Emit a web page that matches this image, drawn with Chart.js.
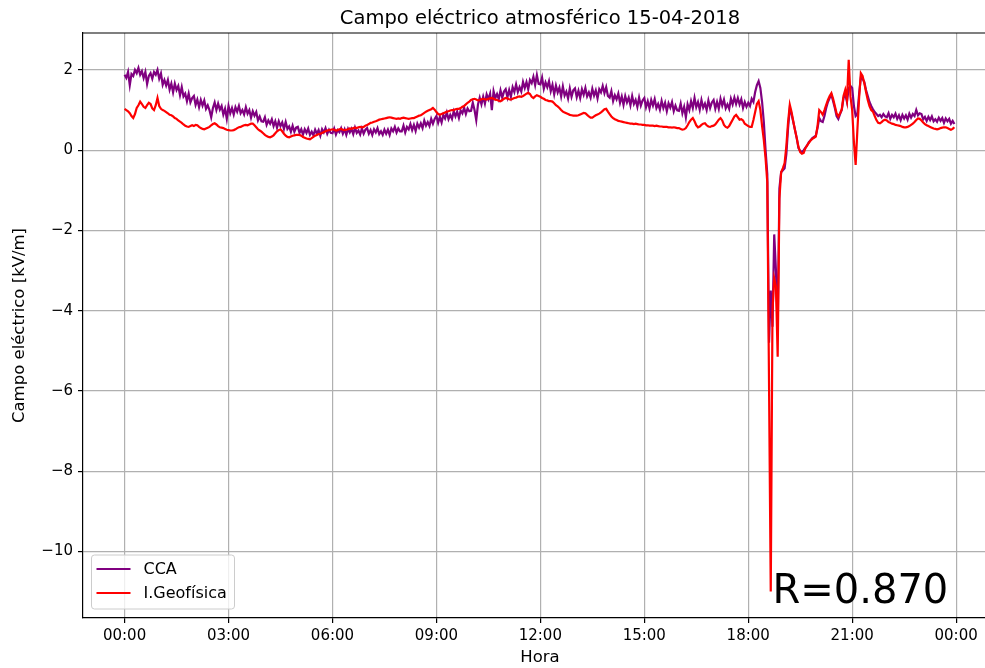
<!DOCTYPE html>
<html>
<head>
<meta charset="utf-8">
<title>Campo eléctrico atmosférico 15-04-2018</title>
<script src="https://cdn.jsdelivr.net/npm/chart.js@4.4.0/dist/chart.umd.min.js"></script>
<style>
  html, body { margin: 0; padding: 0; background: #fff; overflow: hidden; }
  #wrap { width: 985px; height: 668px; overflow: hidden; }
</style>
</head>
<body>
<div id="wrap"><canvas id="fieldChart" width="1000" height="668"></canvas></div>
<script>
// one sample every 3 minutes, starting at 00:00
const sampleStepHours = 0.05;

const seriesNames = ['CCA', 'I.Geofísica'];
const hourTicks = [0, 3, 6, 9, 12, 15, 18, 21, 24];
const fieldTicks = [-10, -8, -6, -4, -2, 0, 2];
const correlationText = 'R=0.870';

// CCA field, kV/m (20 samples per hour)
const ccaField = [
  1.88, 1.80, 1.95, 1.62, 1.90, 1.85, 2.00, 1.92, 2.05, 1.88, 1.97, 1.80, 1.95, 1.65, 1.85, 1.92, 1.78, 1.95, 1.88, 2.00,
  1.78, 1.91, 1.63, 1.75, 1.61, 1.75, 1.51, 1.66, 1.44, 1.66, 1.50, 1.60, 1.37, 1.57, 1.34, 1.41, 1.22, 1.41, 1.19, 1.30,
  1.35, 1.13, 1.26, 1.07, 1.25, 1.11, 1.24, 1.03, 1.12, 1.00, 0.82, 1.05, 1.19, 1.00, 1.16, 1.01, 1.10, 0.89, 1.03, 0.78,
  1.10, 0.92, 1.05, 0.89, 1.07, 0.96, 1.10, 0.92, 1.00, 0.89, 1.07, 0.91, 1.00, 0.81, 0.97, 0.86, 0.95, 0.74, 0.84, 0.72,
  0.71, 0.82, 0.63, 0.74, 0.66, 0.77, 0.60, 0.72, 0.56, 0.72, 0.60, 0.69, 0.53, 0.70, 0.53, 0.59, 0.46, 0.61, 0.46, 0.56,
  0.58, 0.43, 0.52, 0.39, 0.52, 0.43, 0.54, 0.38, 0.46, 0.37, 0.51, 0.41, 0.50, 0.36, 0.52, 0.44, 0.55, 0.41, 0.51, 0.43,
  0.42, 0.54, 0.39, 0.50, 0.45, 0.55, 0.41, 0.52, 0.38, 0.53, 0.44, 0.53, 0.40, 0.56, 0.43, 0.49, 0.39, 0.54, 0.41, 0.51,
  0.55, 0.41, 0.50, 0.38, 0.52, 0.44, 0.55, 0.40, 0.47, 0.38, 0.51, 0.41, 0.51, 0.38, 0.54, 0.47, 0.58, 0.44, 0.54, 0.47,
  0.47, 0.61, 0.44, 0.58, 0.52, 0.65, 0.50, 0.63, 0.48, 0.66, 0.56, 0.67, 0.55, 0.74, 0.61, 0.70, 0.60, 0.78, 0.66, 0.78,
  0.85, 0.68, 0.83, 0.69, 0.88, 0.79, 0.94, 0.77, 0.88, 0.78, 0.97, 0.84, 0.96, 0.80, 0.99, 0.92, 1.06, 0.90, 1.04, 0.97,
  0.98, 1.18, 1.00, 0.75, 1.14, 1.31, 1.14, 1.33, 1.16, 1.39, 1.27, 1.41, 1.00, 1.47, 1.30, 1.40, 1.27, 1.49, 1.31, 1.46,
  1.52, 1.32, 1.50, 1.33, 1.57, 1.45, 1.64, 1.45, 1.57, 1.46, 1.70, 1.55, 1.70, 1.52, 1.75, 1.67, 1.83, 1.62, 1.87, 1.65,
  1.64, 1.81, 1.53, 1.69, 1.57, 1.72, 1.47, 1.63, 1.39, 1.61, 1.44, 1.56, 1.34, 1.59, 1.36, 1.46, 1.29, 1.54, 1.33, 1.49,
  1.54, 1.32, 1.48, 1.30, 1.52, 1.38, 1.55, 1.34, 1.44, 1.31, 1.53, 1.36, 1.49, 1.29, 1.52, 1.44, 1.60, 1.42, 1.57, 1.35,
  1.31, 1.47, 1.22, 1.37, 1.27, 1.41, 1.18, 1.34, 1.13, 1.35, 1.19, 1.31, 1.12, 1.35, 1.15, 1.25, 1.08, 1.31, 1.11, 1.24,
  1.30, 1.07, 1.22, 1.04, 1.25, 1.11, 1.27, 1.05, 1.15, 1.01, 1.23, 1.05, 1.18, 0.97, 1.17, 1.06, 1.20, 0.97, 1.11, 0.99,
  0.98, 1.16, 0.92, 1.08, 0.82, 1.14, 1.00, 1.22, 1.05, 1.30, 1.07, 1.20, 1.01, 1.25, 1.06, 1.16, 1.00, 1.24, 1.05, 1.19,
  1.25, 1.03, 1.20, 1.03, 1.28, 1.11, 1.26, 1.04, 1.14, 1.03, 1.28, 1.14, 1.31, 1.15, 1.30, 1.14, 1.27, 1.05, 1.20, 1.08,
  1.18, 1.10, 1.28, 1.20, 1.45, 1.62, 1.72, 1.55, 1.20, 0.70, 0.00, -0.60, -4.80, -3.50, -4.40, -2.10, -3.00, -4.50, -0.95, -0.55,
  -0.50, -0.45, -0.10, 0.55, 1.05, 0.90, 0.70, 0.50, 0.30, 0.05, -0.02, -0.05, 0.00, 0.06, 0.12, 0.20, 0.25, 0.30, 0.33, 0.36,
  0.55, 0.80, 0.72, 0.70, 0.85, 1.05, 1.20, 1.30, 1.38, 1.22, 1.05, 0.85, 0.78, 0.90, 1.00, 1.30, 1.40, 1.20, 1.55, 1.60,
  1.55, 1.10, 0.85, 0.90, 1.40, 1.80, 1.78, 1.70, 1.50, 1.35, 1.20, 1.10, 1.02, 0.95, 0.90, 0.85, 0.88, 0.82, 0.90, 0.84,
  0.82, 0.92, 0.78, 0.88, 0.82, 0.91, 0.78, 0.87, 0.75, 0.88, 0.79, 0.87, 0.76, 0.91, 0.81, 0.90, 0.85, 1.00, 0.87, 0.92,
  0.90, 0.77, 0.83, 0.73, 0.83, 0.75, 0.84, 0.72, 0.77, 0.71, 0.81, 0.73, 0.80, 0.68, 0.79, 0.72, 0.78, 0.66, 0.73, 0.65
];

// Instituto Geofísico field, kV/m (20 samples per hour)
const geofisicaField = [
  1.03, 1.00, 0.97, 0.92, 0.85, 0.80, 0.90, 1.05, 1.12, 1.21, 1.15, 1.08, 1.05, 1.12, 1.18, 1.15, 1.04, 1.00, 1.12, 1.30,
  1.10, 1.03, 1.00, 0.98, 0.95, 0.92, 0.88, 0.87, 0.84, 0.80, 0.78, 0.74, 0.71, 0.68, 0.64, 0.61, 0.59, 0.58, 0.60, 0.62,
  0.60, 0.63, 0.62, 0.58, 0.55, 0.53, 0.52, 0.54, 0.56, 0.58, 0.62, 0.65, 0.67, 0.64, 0.60, 0.57, 0.56, 0.55, 0.53, 0.51,
  0.50, 0.49, 0.49, 0.50, 0.52, 0.55, 0.57, 0.58, 0.60, 0.62, 0.63, 0.62, 0.64, 0.66, 0.66, 0.62, 0.57, 0.52, 0.49, 0.46,
  0.42, 0.38, 0.35, 0.33, 0.32, 0.34, 0.37, 0.42, 0.47, 0.50, 0.52, 0.47, 0.41, 0.36, 0.33, 0.32, 0.34, 0.36, 0.37, 0.38,
  0.38, 0.38, 0.36, 0.33, 0.31, 0.29, 0.28, 0.27, 0.30, 0.33, 0.36, 0.38, 0.40, 0.41, 0.43, 0.45, 0.47, 0.49, 0.50, 0.51,
  0.52, 0.51, 0.49, 0.50, 0.52, 0.53, 0.51, 0.50, 0.51, 0.52, 0.54, 0.53, 0.55, 0.56, 0.55, 0.57, 0.58, 0.57, 0.58, 0.61,
  0.63, 0.65, 0.68, 0.69, 0.71, 0.72, 0.74, 0.76, 0.77, 0.78, 0.79, 0.80, 0.81, 0.82, 0.81, 0.80, 0.79, 0.78, 0.79, 0.78,
  0.80, 0.81, 0.80, 0.79, 0.78, 0.79, 0.80, 0.80, 0.82, 0.84, 0.86, 0.87, 0.90, 0.93, 0.96, 0.98, 1.00, 1.02, 1.05, 1.01,
  0.95, 0.90, 0.88, 0.90, 0.92, 0.94, 0.96, 0.97, 0.99, 1.00, 1.00, 1.02, 1.03, 1.03, 1.05, 1.08, 1.10, 1.14, 1.18, 1.21,
  1.25, 1.27, 1.28, 1.26, 1.24, 1.25, 1.27, 1.28, 1.27, 1.26, 1.28, 1.29, 1.30, 1.28, 1.26, 1.25, 1.23, 1.22, 1.25, 1.28,
  1.30, 1.29, 1.27, 1.26, 1.28, 1.30, 1.31, 1.33, 1.34, 1.33, 1.35, 1.38, 1.41, 1.43, 1.40, 1.33, 1.30, 1.34, 1.37, 1.35,
  1.33, 1.30, 1.28, 1.25, 1.24, 1.22, 1.22, 1.21, 1.17, 1.12, 1.09, 1.05, 1.00, 0.96, 0.94, 0.92, 0.90, 0.88, 0.87, 0.86,
  0.86, 0.86, 0.87, 0.89, 0.91, 0.93, 0.92, 0.88, 0.84, 0.81, 0.81, 0.84, 0.87, 0.89, 0.91, 0.94, 0.98, 1.02, 1.03, 0.96,
  0.90, 0.84, 0.80, 0.77, 0.75, 0.73, 0.72, 0.71, 0.70, 0.69, 0.68, 0.67, 0.66, 0.66, 0.65, 0.66, 0.65, 0.64, 0.64, 0.63,
  0.63, 0.62, 0.62, 0.61, 0.61, 0.61, 0.60, 0.61, 0.60, 0.59, 0.59, 0.58, 0.58, 0.58, 0.57, 0.57, 0.56, 0.57, 0.56, 0.55,
  0.55, 0.53, 0.51, 0.52, 0.55, 0.62, 0.70, 0.76, 0.80, 0.72, 0.62, 0.57, 0.59, 0.63, 0.66, 0.67, 0.62, 0.59, 0.58, 0.60,
  0.61, 0.64, 0.70, 0.76, 0.80, 0.74, 0.63, 0.58, 0.56, 0.60, 0.68, 0.76, 0.84, 0.88, 0.82, 0.76, 0.77, 0.74, 0.66, 0.63,
  0.60, 0.58, 0.58, 0.75, 0.95, 1.15, 1.22, 1.00, 0.60, 0.25, -0.20, -0.80, -5.80, -11.00, -4.00, -3.20, -3.40, -5.15, -1.20, -0.55,
  -0.45, -0.32, 0.10, 0.70, 1.13, 0.95, 0.72, 0.50, 0.30, 0.08, -0.05, -0.09, -0.07, 0.05, 0.12, 0.18, 0.24, 0.28, 0.31, 0.34,
  0.60, 1.00, 0.95, 0.88, 1.00, 1.13, 1.25, 1.35, 1.42, 1.28, 1.10, 0.92, 0.84, 0.92, 1.02, 1.35, 1.50, 1.25, 2.25, 1.34,
  1.00, 0.20, -0.37, 0.50, 1.30, 1.92, 1.85, 1.67, 1.45, 1.25, 1.10, 1.00, 0.96, 0.85, 0.75, 0.68, 0.67, 0.70, 0.74, 0.76,
  0.74, 0.70, 0.68, 0.66, 0.65, 0.63, 0.62, 0.61, 0.60, 0.58, 0.57, 0.57, 0.58, 0.60, 0.63, 0.66, 0.70, 0.75, 0.79, 0.78,
  0.74, 0.69, 0.65, 0.62, 0.60, 0.58, 0.56, 0.54, 0.53, 0.52, 0.53, 0.55, 0.56, 0.57, 0.57, 0.55, 0.53, 0.51, 0.53, 0.57
];

const FONT = 'DejaVu Sans';
Chart.defaults.font.family = FONT;
Chart.defaults.color = '#000';

const toPoints = values => values.map((v, i) => ({ x: i * sampleStepHours, y: v }));
const hourLabel = v => String(v % 24).padStart(2, '0') + ':00';
const minusLabel = v => (v < 0 ? '\u2212' + Math.abs(v) : String(v));

// matplotlib-like extras: top/right spines, title, inset legend, R annotation
const extrasPlugin = {
  id: 'extras',
  afterDraw(chart) {
    const { ctx, chartArea: a, scales } = chart;
    ctx.save();

    ctx.strokeStyle = '#000';
    ctx.lineWidth = 1.2;
    ctx.beginPath();
    ctx.moveTo(a.left, a.top);
    ctx.lineTo(a.right, a.top);
    ctx.lineTo(a.right, a.bottom);
    ctx.stroke();

    ctx.fillStyle = '#000';
    ctx.font = '19.5px "' + FONT + '"';
    ctx.textAlign = 'center';
    ctx.textBaseline = 'alphabetic';
    ctx.fillText('Campo eléctrico atmosférico 15-04-2018', (a.left + a.right) / 2, 24);

    // legend box, lower left
    const bx = a.left + 8.5, by = a.bottom - 63, bw = 143, bh = 54, r = 3;
    ctx.beginPath();
    ctx.moveTo(bx + r, by);
    ctx.arcTo(bx + bw, by, bx + bw, by + bh, r);
    ctx.arcTo(bx + bw, by + bh, bx, by + bh, r);
    ctx.arcTo(bx, by + bh, bx, by, r);
    ctx.arcTo(bx, by, bx + bw, by, r);
    ctx.closePath();
    ctx.fillStyle = 'rgba(255,255,255,0.8)';
    ctx.fill();
    ctx.strokeStyle = '#cccccc';
    ctx.lineWidth = 1;
    ctx.stroke();

    ctx.font = '16px "' + FONT + '"';
    ctx.textAlign = 'left';
    ctx.textBaseline = 'middle';
    chart.data.datasets.forEach((ds, i) => {
      const ly = by + 14 + i * 24;
      ctx.strokeStyle = ds.borderColor;
      ctx.lineWidth = 2.2;
      ctx.beginPath();
      ctx.moveTo(bx + 5, ly);
      ctx.lineTo(bx + 39, ly);
      ctx.stroke();
      ctx.fillStyle = '#000';
      ctx.fillText(ds.label, bx + 52, ly + 1);
    });

    ctx.font = '40px "' + FONT + '"';
    ctx.textBaseline = 'alphabetic';
    ctx.fillStyle = '#000';
    ctx.fillText(correlationText, scales.x.getPixelForValue(18.7), scales.y.getPixelForValue(-11.28));

    ctx.restore();
  }
};

new Chart(document.getElementById('fieldChart'), {
  type: 'line',
  data: {
    datasets: [
      {
        label: seriesNames[0],
        data: toPoints(ccaField),
        borderColor: '#800080',
        borderWidth: 2.2,
        pointRadius: 0,
        tension: 0,
        order: 2
      },
      {
        label: seriesNames[1],
        data: toPoints(geofisicaField),
        borderColor: '#ff0000',
        borderWidth: 2.2,
        pointRadius: 0,
        tension: 0,
        order: 1
      }
    ]
  },
  options: {
    responsive: false,
    animation: false,
    devicePixelRatio: 1,
    layout: { padding: { top: 33, right: 3, left: 0, bottom: 0 } },
    plugins: {
      legend: { display: false },
      tooltip: { enabled: false },
      title: { display: false }
    },
    scales: {
      x: {
        type: 'linear',
        min: -1.2,
        max: 25.18,
        afterBuildTicks: s => { s.ticks = hourTicks.map(v => ({ value: v })); },
        afterFit: s => { s.height = 50; },
        ticks: { callback: v => hourLabel(v), font: { size: 15 }, padding: 4, maxRotation: 0, autoSkip: false },
        grid: { color: '#b0b0b0', lineWidth: 1.2, tickColor: '#000', tickLength: 5, tickWidth: 1.2 },
        border: { color: '#000', width: 1.2 },
        title: { display: true, text: 'Hora', font: { size: 16.5 }, padding: { top: 0, bottom: 0 } }
      },
      y: {
        type: 'linear',
        min: -11.66,
        max: 2.92,
        afterBuildTicks: s => { s.ticks = fieldTicks.map(v => ({ value: v })); },
        afterFit: s => { s.width = 83; },
        ticks: { callback: v => minusLabel(v), font: { size: 15 }, padding: 5 },
        grid: { color: '#b0b0b0', lineWidth: 1.2, tickColor: '#000', tickLength: 5, tickWidth: 1.2 },
        border: { color: '#000', width: 1.2 },
        title: { display: true, text: 'Campo eléctrico [kV/m]', font: { size: 16.5 }, padding: { top: 10, bottom: 0 } }
      }
    }
  },
  plugins: [extrasPlugin]
});
</script>
</body>
</html>
